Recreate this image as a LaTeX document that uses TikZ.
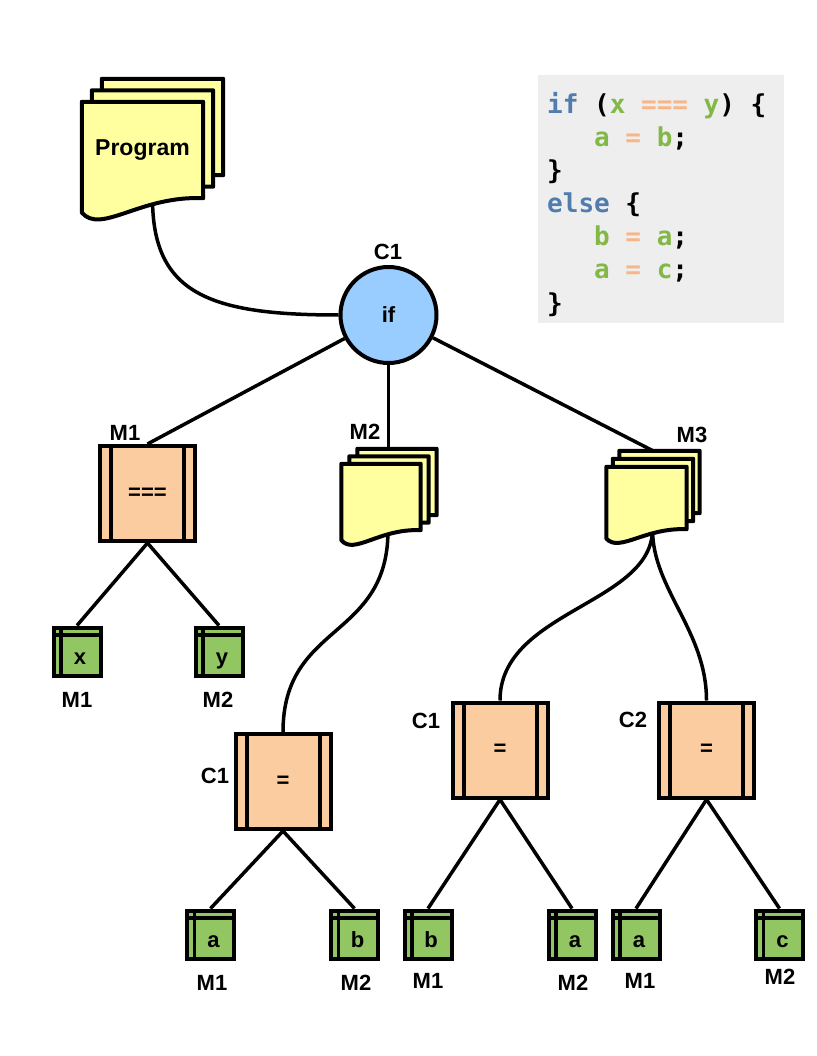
\documentclass[tikz,border=0pt]{standalone}
\usepackage{fontspec}
\setmainfont{Liberation Sans}
\newfontfamily\codefont{DejaVu Sans Mono}
\usetikzlibrary{calc}

\definecolor{docyellow}{RGB}{255,255,160}
\definecolor{peach}{RGB}{250,204,160}
\definecolor{leafgreen}{RGB}{146,198,98}
\definecolor{ifblue}{RGB}{153,204,255}
\definecolor{codegray}{RGB}{238,238,238}
\definecolor{kwblue}{RGB}{80,124,174}
\definecolor{vargreen}{RGB}{130,184,70}
\definecolor{oporange}{RGB}{247,182,138}

\newcommand\lblfont{\fontsize{22}{26}\selectfont\bfseries}
\newcommand\kw[1]{\textcolor{kwblue}{#1}}
\newcommand\vr[1]{\textcolor{vargreen}{#1}}
\newcommand\op[1]{\textcolor{oporange}{#1}}

\pgfdeclarelayer{edges}
\pgfdeclarelayer{pages}
\pgfsetlayers{edges,pages,main}

% one sheet of a document stack, drawn around an (invisible) node
\newcommand\docpage[1]{%
  \path[pageshape] let \p1=(#1.north west), \p2=(#1.south east),
    \n1={\x2-\x1}, \n2={\y1-\y2} in
    (\p1) -- (\x2,\y1) -- (\p2)
    .. controls ({\x1+0.48*\n1},{\y2+0.03*\n2}) and ({\x1+0.16*\n1},{\y2-0.38*\n2})
    .. (\x1,{\y2-0.15*\n2}) -- cycle;}

\tikzset{
  edge/.style={draw=black, line width=3.5pt},
  pagebox/.style={rectangle, inner sep=0pt, draw=none, font=\lblfont},
  pageshape/.style={draw=black, fill=docyellow, line width=4pt, line join=round},
  procbox/.style={rectangle, draw=black, fill=peach, line width=4pt,
    minimum width=95pt, minimum height=95pt, inner sep=0pt, font=\lblfont,
    path picture={
      \draw[line width=4pt]
        ([xshift=11pt]path picture bounding box.north west) --
        ([xshift=11pt]path picture bounding box.south west)
        ([xshift=-11pt]path picture bounding box.north east) --
        ([xshift=-11pt]path picture bounding box.south east);}},
  leaf/.style={rectangle, draw=black, fill=leafgreen, line width=4pt,
    minimum width=47pt, minimum height=48pt, inner sep=0pt, font=\lblfont,
    text height=25pt, text depth=0pt,
    path picture={
      \draw[line width=3.5pt]
        ([yshift=-7.5pt]path picture bounding box.north west) --
        ([yshift=-7.5pt]path picture bounding box.north east)
        ([xshift=7.5pt]path picture bounding box.north west) --
        ([xshift=7.5pt]path picture bounding box.south west);}},
  lbl/.style={inner sep=0pt, font=\lblfont},
  codeline/.style={anchor=base west, inner sep=0pt,
    font=\codefont\bfseries\fontsize{26}{30}\selectfont},
}

\begin{document}
\begin{tikzpicture}[x=1pt,y=-1pt]
\useasboundingbox (0,0) rectangle (816,1056);

% source code panel
\node[rectangle, fill=codegray, draw=none, minimum width=246pt, minimum height=248pt,
  inner sep=0pt] (codebox) at (661,199) {};
\node[codeline] (code1) at (547,114) {\kw{if} (\vr{x} \op{===} \vr{y}) \{};
\node[codeline] (code2) at (547,147) {\phantom{xxx}\vr{a} \op{=} \vr{b};};
\node[codeline] (code3) at (547,180) {\}};
\node[codeline] (code4) at (547,213) {\kw{else} \{};
\node[codeline] (code5) at (547,246) {\phantom{xxx}\vr{b} \op{=} \vr{a};};
\node[codeline] (code6) at (547,279) {\phantom{xxx}\vr{a} \op{=} \vr{c};};
\node[codeline] (code7) at (547,312) {\}};

% document stacks
\node[pagebox, minimum width=121pt, minimum height=96pt] (progc) at (162.5,127) {};
\node[pagebox, minimum width=121pt, minimum height=96pt] (progb) at (152.5,138.5) {};
\node[pagebox, minimum width=121pt, minimum height=96pt,
  font=\fontsize{23}{27}\selectfont\bfseries] (prog) at (142.5,150) {Program};

\node[pagebox, minimum width=79pt, minimum height=66pt] (m2c) at (397,482) {};
\node[pagebox, minimum width=79pt, minimum height=66pt] (m2b) at (389,489.5) {};
\node[pagebox, minimum width=79pt, minimum height=66pt] (m2) at (381,497) {};

\node[pagebox, minimum width=80pt, minimum height=62pt] (m3c) at (659.5,482) {};
\node[pagebox, minimum width=80pt, minimum height=62pt] (m3b) at (653,490) {};
\node[pagebox, minimum width=80pt, minimum height=62pt] (m3) at (646.5,498) {};

\begin{pgfonlayer}{pages}
  \docpage{progc}\docpage{progb}\docpage{prog}
  \docpage{m2c}\docpage{m2b}\docpage{m2}
  \docpage{m3c}\docpage{m3b}\docpage{m3}
\end{pgfonlayer}

% condition node
\node[circle, draw=black, fill=ifblue, line width=4pt, minimum size=96pt,
  inner sep=0pt, font=\lblfont] (if) at (388.5,315) {if};

% process boxes
\node[procbox] (m1) at (147.5,493.5) {===};
\node[procbox] (c1a) at (283,781.5) {=};
\node[procbox] (c1b) at (500,750) {=};
\node[procbox] (c2) at (706.5,750) {=};

% leaves
\node[leaf] (x) at (77,651.5) {\hspace*{6pt}x};
\node[leaf] (y) at (219,651.5) {\hspace*{6pt}y};
\node[leaf] (a1) at (210.5,934.5) {\hspace*{6pt}a};
\node[leaf] (b1) at (354.5,934.5) {\hspace*{6pt}b};
\node[leaf] (b2) at (428,934.5) {\hspace*{6pt}b};
\node[leaf] (a2) at (572,934.5) {\hspace*{6pt}a};
\node[leaf] (a3) at (636,934.5) {\hspace*{6pt}a};
\node[leaf] (c) at (779.5,934.5) {\hspace*{6pt}c};

% labels
\node[lbl] (iflbl) at (388,252) {C1};
\node[lbl] (m1lbl) at (125,433) {M1};
\node[lbl] (m2lbl) at (365,432) {M2};
\node[lbl] (m3lbl) at (692,435) {M3};
\node[lbl] (c1albl) at (215,776) {C1};
\node[lbl] (c1blbl) at (426,721) {C1};
\node[lbl] (c2lbl) at (633,720) {C2};
\node[lbl] (xlbl) at (77,700) {M1};
\node[lbl] (ylbl) at (218,700) {M2};
\node[lbl] (a1lbl) at (212,983) {M1};
\node[lbl] (b1lbl) at (356,983) {M2};
\node[lbl] (b2lbl) at (428,981) {M1};
\node[lbl] (a2lbl) at (573,983) {M2};
\node[lbl] (a3lbl) at (640,981) {M1};
\node[lbl] (clbl) at (780,977) {M2};

% connectors
\begin{pgfonlayer}{edges}
  \draw[edge] ([xshift=10pt]prog.south) .. controls +(0,95) and +(-130,0) .. (if.west);
  \draw[edge] (if) -- (m1.north);
  \draw[edge] (if.south) -- (if.south |- m2c.north);
  \draw[edge] (if) -- (m3c.north -| m3b.north);
  \draw[edge] (m1.south) -- (x.north);
  \draw[edge] (m1.south) -- (y.north);
  \draw[edge] ([xshift=7pt]m2.south) .. controls +(0,110) and +(0,-110) .. (c1a.north);
  \draw[edge] ([xshift=6pt]m3.south) .. controls +(0,75) and +(0,-90) .. (c1b.north);
  \draw[edge] ([xshift=6pt]m3.south) .. controls +(0,60) and +(0,-70) .. (c2.north);
  \draw[edge] (c1a.south) -- (a1.north);
  \draw[edge] (c1a.south) -- (b1.north);
  \draw[edge] (c1b.south) -- (b2.north);
  \draw[edge] (c1b.south) -- (a2.north);
  \draw[edge] (c2.south) -- (a3.north);
  \draw[edge] (c2.south) -- (c.north);
\end{pgfonlayer}
\end{tikzpicture}
\end{document}
